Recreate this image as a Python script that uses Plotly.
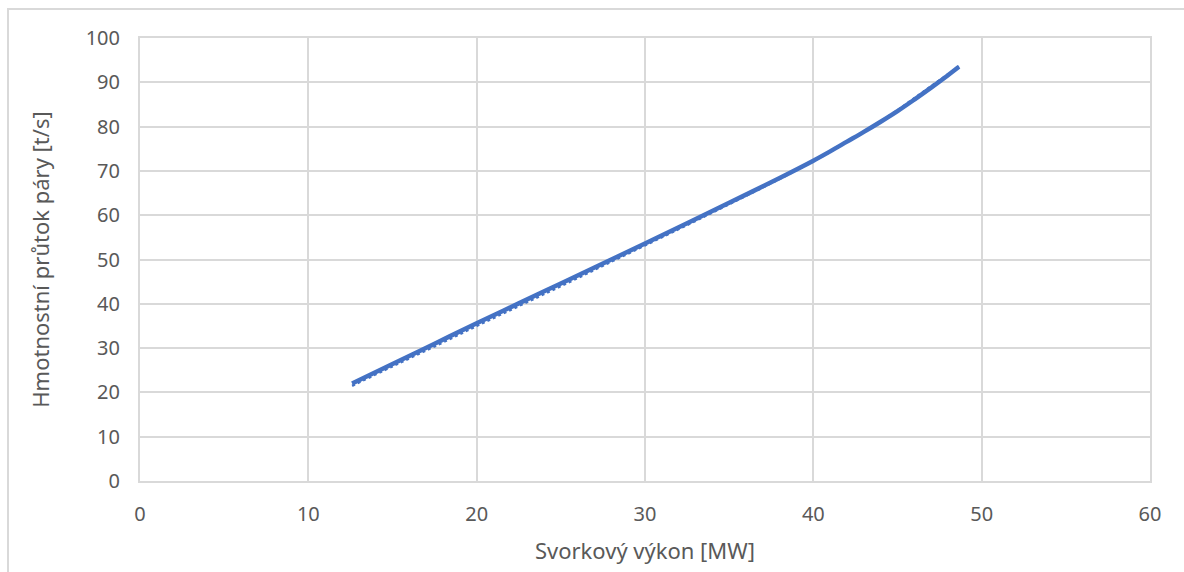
import plotly.graph_objects as go

# Terminal power [MW] and steam mass flow [t/s]
vykon = [12.6, 15.0, 17.5, 20.0, 22.5, 25.0, 27.5, 30.0, 32.5, 35.0, 38.0, 40.0,
         41.0, 42.0, 43.0, 44.0, 45.0, 46.0, 47.0, 48.0, 48.65]
prutok = [22.0, 26.4, 31.0, 35.6, 40.1, 44.6, 49.1, 53.6, 58.2, 62.8, 68.4, 72.3,
          74.4, 76.6, 78.8, 81.1, 83.5, 86.1, 88.8, 91.6, 93.5]
# polynomial trend fitted to the same points
trend = [21.5, 25.9, 30.4, 35.0, 39.5, 44.0, 48.6, 53.2, 57.8, 62.5, 68.2, 72.2,
         74.3, 76.6, 78.8, 81.2, 83.7, 86.4, 89.1, 91.8, 93.6]

x_ticks = [0, 10, 20, 30, 40, 50, 60]
y_ticks = [0, 10, 20, 30, 40, 50, 60, 70, 80, 90, 100]

FONT = "Noto Sans"
GRID = "#d9d9d9"
TEXT = "#595959"
BLUE = "#4472c4"

fig = go.Figure()
fig.add_trace(go.Scatter(x=vykon, y=trend, mode="lines",
                         line=dict(color=BLUE, width=2.5, dash="dot", shape="spline"),
                         showlegend=False))
fig.add_trace(go.Scatter(x=vykon, y=prutok, mode="lines",
                         line=dict(color=BLUE, width=4.5, shape="spline"),
                         showlegend=False))

fig.update_layout(
    width=1184, height=572,
    margin=dict(l=140, r=34, t=38, b=91),
    paper_bgcolor="white", plot_bgcolor="white",
    font=dict(family=FONT, color=TEXT, size=20),
    xaxis=dict(range=[0, 60], tickvals=x_ticks, showgrid=True, gridcolor=GRID, gridwidth=2,
               zeroline=False, showline=True, linecolor=GRID, linewidth=2, mirror=True,
               ticks="", ticklabelstandoff=14,
               title=dict(text="Svorkový výkon [MW]", font=dict(size=22, color=TEXT), standoff=18)),
    yaxis=dict(range=[0, 100], tickvals=y_ticks, showgrid=True, gridcolor=GRID, gridwidth=2,
               zeroline=False, showline=True, linecolor=GRID, linewidth=2, mirror=True,
               ticks="", ticklabelstandoff=14,
               title=dict(text="Hmotnostní průtok páry [t/s]", font=dict(size=22, color=TEXT), standoff=30)),
    shapes=[dict(type="path", xref="paper", yref="paper",
                 path="M -0.1307 -0.3 L -0.1307 1.0655 L 1.1 1.0655",
                 line=dict(color=GRID, width=2))],
)

fig.write_html("out.html")
